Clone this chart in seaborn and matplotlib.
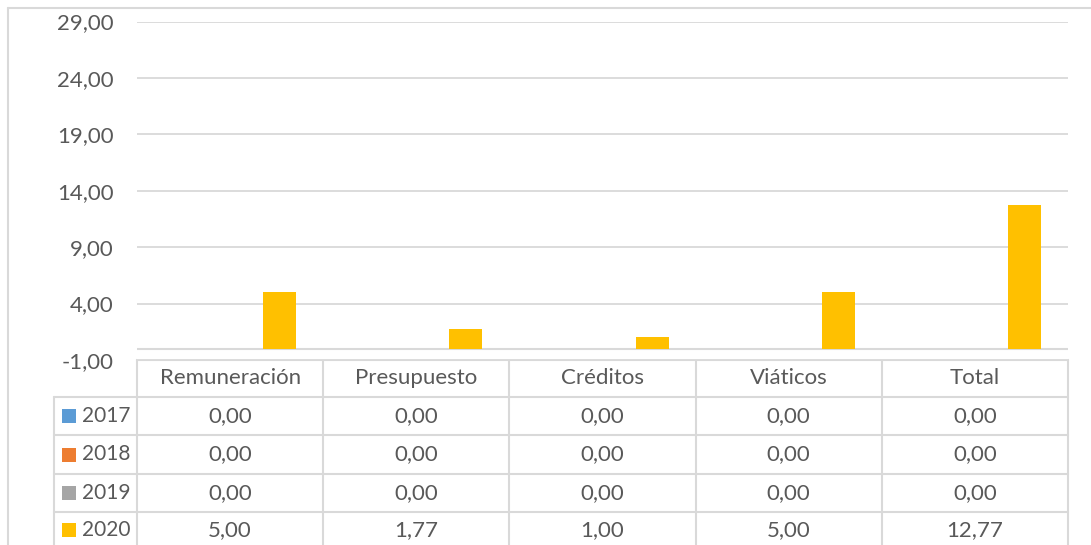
import matplotlib
matplotlib.use("Agg")
import matplotlib.pyplot as plt
import matplotlib.ticker as mticker
import seaborn as sns
import pandas as pd
from matplotlib.lines import Line2D
from matplotlib.patches import Rectangle

categorias = ["Remuneración", "Presupuesto", "Créditos", "Viáticos", "Total"]
anios = ["2017", "2018", "2019", "2020"]
valores_2017 = [0.00, 0.00, 0.00, 0.00, 0.00]
valores_2018 = [0.00, 0.00, 0.00, 0.00, 0.00]
valores_2019 = [0.00, 0.00, 0.00, 0.00, 0.00]
valores_2020 = [5.00, 1.77, 1.00, 5.00, 12.77]
colores = ["#5B9BD5", "#ED7D31", "#A5A5A5", "#FFC000"]
ticks_y = [-1, 4, 9, 14, 19, 24, 29]

series = [valores_2017, valores_2018, valores_2019, valores_2020]

filas = []
for anio, vals in zip(anios, series):
    for cat, v in zip(categorias, vals):
        filas.append({"Categoria": cat, "Anio": anio, "Valor": v})
df = pd.DataFrame(filas)

W, H = 1091, 545
GRIS_TXT = "#595959"
GRIS_LIN = "#D9D9D9"
FUENTE = ["Lato", "DejaVu Sans"]

sns.set_style("white")
plt.rcParams["font.family"] = FUENTE

fig = plt.figure(figsize=(W / 100, H / 100), dpi=100)

# zona de dibujo en pixeles
x0, x1 = 137, 1068
y_top, y_bot = 21.5, 360
ax = fig.add_axes([x0 / W, 1 - y_bot / H, (x1 - x0) / W, (y_bot - y_top) / H])

sns.barplot(
    data=df, x="Categoria", y="Valor", hue="Anio",
    order=categorias, hue_order=anios, palette=colores,
    width=0.71, saturation=1, legend=False, ax=ax, linewidth=0,
)

ax.set_ylim(ticks_y[0], ticks_y[-1])
ax.set_xlim(-0.5, len(categorias) - 0.5)
ax.axhline(0, color=GRIS_LIN, linewidth=1.5, zorder=0.5)

ax.set_yticks(ticks_y)
ax.yaxis.set_major_formatter(
    mticker.FuncFormatter(lambda v, pos: f"{v:.2f}".replace(".", ","))
)
fs = 16
ax.tick_params(axis="y", length=0, pad=17, labelsize=fs, labelcolor=GRIS_TXT)
ax.set_xticks([])
ax.set_xlabel("")
ax.set_ylabel("")
ax.grid(axis="y", color=GRIS_LIN, linewidth=1.3)
ax.set_axisbelow(True)
for s in ax.spines.values():
    s.set_visible(False)

# tabla de datos
tab = fig.add_axes([0, 0, 1, 1], zorder=-1)
tab.set_xlim(0, W)
tab.set_ylim(H, 0)
tab.axis("off")

ancho = (x1 - x0) / len(categorias)
cols = [x0 + i * ancho for i in range(len(categorias) + 1)]
x_hdr = 54
y_rows = [360, 396.7, 435, 474, 512.3, 551]

kw = dict(color=GRIS_LIN, linewidth=1.5)
tab.add_line(Line2D([x0, x1], [y_rows[0]] * 2, **kw))
for y in y_rows[1:-1]:
    tab.add_line(Line2D([x_hdr, x1], [y, y], **kw))
for x in cols:
    tab.add_line(Line2D([x, x], [y_rows[0], H], **kw))
tab.add_line(Line2D([x_hdr, x_hdr], [y_rows[1], H], **kw))

# bordes del area del grafico
tab.add_line(Line2D([7.5, W], [7.5, 7.5], **kw))
tab.add_line(Line2D([7.5, 7.5], [7.5, H], **kw))

for i, cat in enumerate(categorias):
    cx = (cols[i] + cols[i + 1]) / 2
    tab.text(cx, (y_rows[0] + y_rows[1]) / 2, cat, ha="center", va="center",
             fontsize=fs, color=GRIS_TXT)

for j, (anio, vals) in enumerate(zip(anios, series)):
    cy = (y_rows[j + 1] + y_rows[j + 2]) / 2
    if j == len(anios) - 1:
        cy = y_rows[j + 1] + 18
    tab.add_patch(Rectangle((62, cy - 7), 14, 14, color=colores[j], linewidth=0))
    tab.text(82, cy, anio, ha="left", va="center", fontsize=15, color=GRIS_TXT)
    for i, v in enumerate(vals):
        cx = (cols[i] + cols[i + 1]) / 2
        tab.text(cx, cy, f"{v:.2f}".replace(".", ","), ha="center", va="center",
                 fontsize=fs, color=GRIS_TXT)

fig.savefig("out.png", dpi=100)
